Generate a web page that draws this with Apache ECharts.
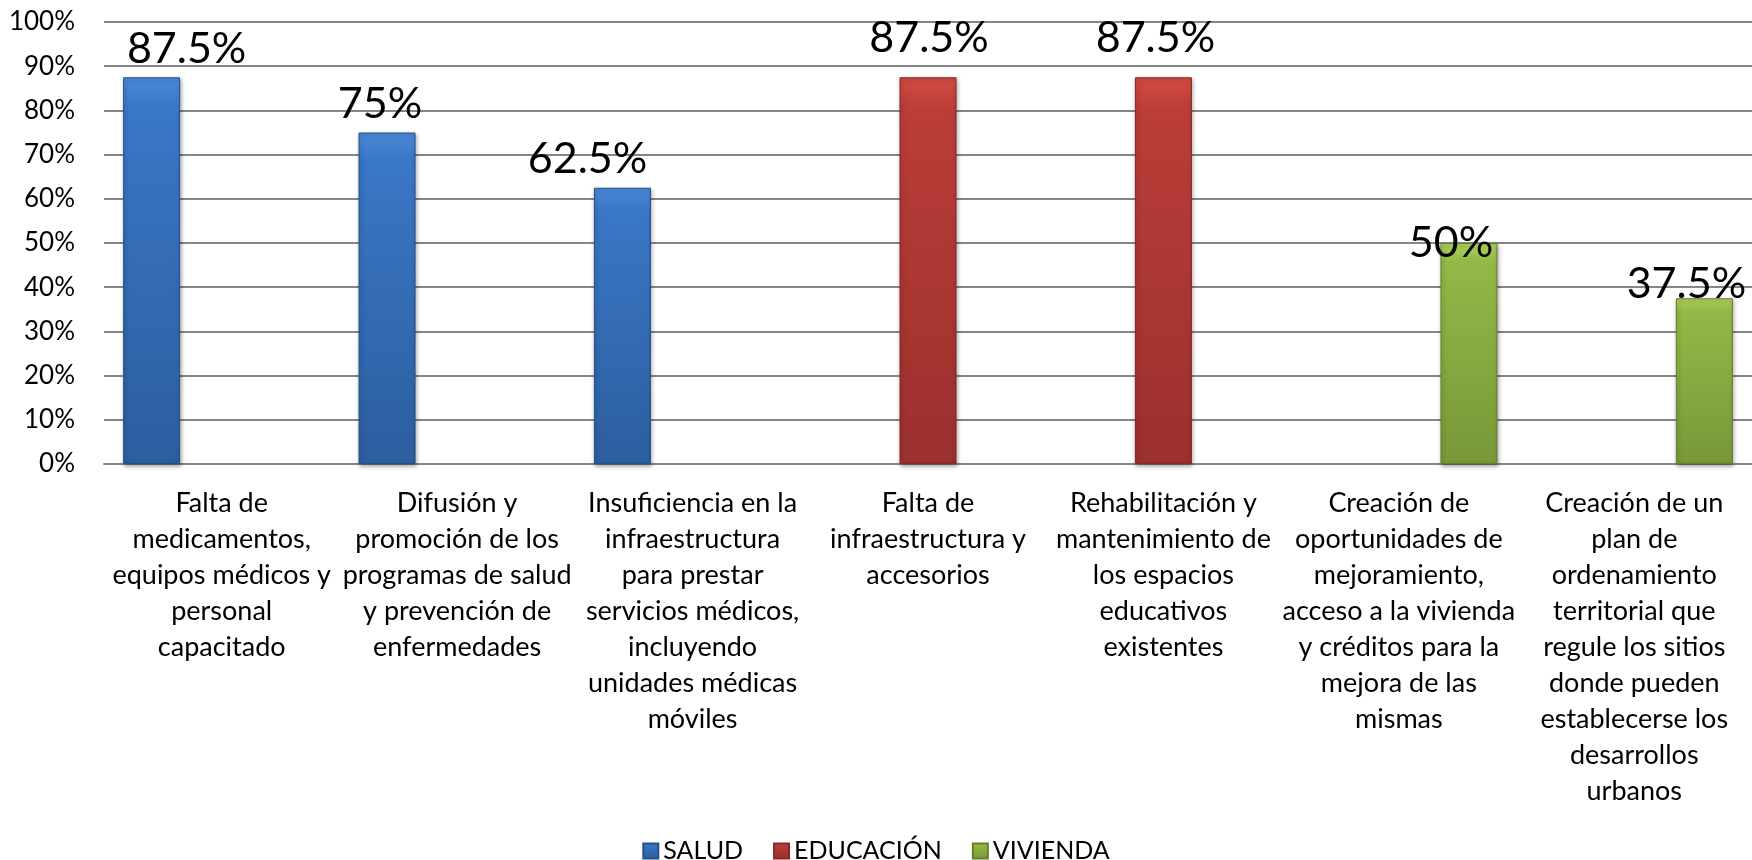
<!DOCTYPE html>
<html>
<head>
<meta charset="utf-8">
<title>Problemáticas por sector</title>
<script src="https://cdn.jsdelivr.net/npm/echarts@6/dist/echarts.min.js"></script>
<style>
  html, body { margin: 0; padding: 0; background: #fff; }
  #chart { width: 1752px; height: 860px; }
</style>
</head>
<body>
<div id="chart"></div>
<script>
// categorias (con los saltos de linea del original)
var categories = [
  'Falta de\nmedicamentos,\nequipos médicos y\npersonal\ncapacitado',
  'Difusión y\npromoción de los\nprogramas de salud\ny prevención de\nenfermedades',
  'Insuficiencia en la\ninfraestructura\npara prestar\nservicios médicos,\nincluyendo\nunidades médicas\nmóviles',
  'Falta de\ninfraestructura y\naccesorios',
  'Rehabilitación y\nmantenimiento de\nlos espacios\neducativos\nexistentes',
  'Creación de\noportunidades de\nmejoramiento,\nacceso a la vivienda\ny créditos para la\nmejora de las\nmismas',
  'Creación de un\nplan de\nordenamiento\nterritorial que\nregule los sitios\ndonde pueden\nestablecerse los\ndesarrollos\nurbanos'
];
var seriesNames = ['SALUD', 'EDUCACIÓN', 'VIVIENDA'];
var salud     = [87.5, 75, 62.5, '-', '-', '-', '-'];
var educacion = ['-', '-', '-', 87.5, 87.5, '-', '-'];
var vivienda  = ['-', '-', '-', '-', '-', 50, 37.5];
var yTicks = [0, 10, 20, 30, 40, 50, 60, 70, 80, 90, 100];

// desplazamiento manual de las etiquetas, como en el original
var labelShift = [[35, -2], [-7, -2], [-35, -2], [1, -13], [-8, -13], [-18, 27], [-18, 12]];

var font = 'Lato, "Open Sans", sans-serif';

function barColor (top, mid, bottom) {
  return new echarts.graphic.LinearGradient(0, 0, 0, 1, [
    {offset: 0, color: top},
    {offset: 0.08, color: mid},
    {offset: 1, color: bottom}
  ]);
}

var colors = [
  ['#4a8ad9', '#3a77c6', '#2c5e9f'],
  ['#d64a44', '#bb3d39', '#9b302d'],
  ['#acd35a', '#93b947', '#789839']
];
var borders = ['#24508a', '#862826', '#657f2f'];

function makeSeries (name, values, idx) {
  return {
    name: name,
    type: 'bar',
    barWidth: 57,
    barGap: '23%',
    data: values.map(function (v, i) {
      if (v === '-') return v;
      return {
        value: v,
        label: {offset: labelShift[i]}
      };
    }),
    itemStyle: {
      color: barColor(colors[idx][0], colors[idx][1], colors[idx][2]),
      borderColor: borders[idx],
      borderWidth: 1,
      shadowColor: 'rgba(0,0,0,0.35)',
      shadowBlur: 4,
      shadowOffsetX: 1,
      shadowOffsetY: 2
    },
    label: {
      show: true,
      position: 'top',
      distance: 5,
      fontFamily: font,
      fontSize: 43,
      lineHeight: 43,
      color: '#000',
      formatter: '{c}%'
    }
  };
}

var chart = echarts.init(document.getElementById('chart'));
chart.setOption({
  animation: false,
  backgroundColor: '#fff',
  textStyle: {fontFamily: font},
  grid: {
    left: 104,
    right: 0,
    top: 22,
    bottom: 396
  },
  legend: {
    top: 834,
    left: 'center',
    padding: 0,
    itemWidth: 15,
    itemHeight: 15,
    itemGap: 30,
    icon: 'rect',
    textStyle: {fontFamily: font, fontSize: 25, lineHeight: 28, color: '#000', padding: [0, 0, 6, 0]},
    data: seriesNames
  },
  xAxis: {
    type: 'category',
    data: categories,
    axisLine: {lineStyle: {color: '#868686', width: 2}},
    axisTick: {show: false},
    axisLabel: {
      interval: 0,
      margin: 21,
      fontFamily: font,
      fontSize: 27,
      lineHeight: 36,
      color: '#000',
      verticalAlign: 'top'
    }
  },
  yAxis: {
    type: 'value',
    min: yTicks[0],
    max: yTicks[yTicks.length - 1],
    interval: yTicks[1] - yTicks[0],
    axisLine: {show: false},
    axisTick: {show: false},
    axisLabel: {
      margin: 29,
      fontFamily: font,
      fontSize: 26,
      color: '#000',
      formatter: '{value}%'
    },
    splitLine: {lineStyle: {color: '#868686', width: 2}}
  },
  series: [
    makeSeries(seriesNames[0], salud, 0),
    makeSeries(seriesNames[1], educacion, 1),
    makeSeries(seriesNames[2], vivienda, 2)
  ]
});
</script>
</body>
</html>
